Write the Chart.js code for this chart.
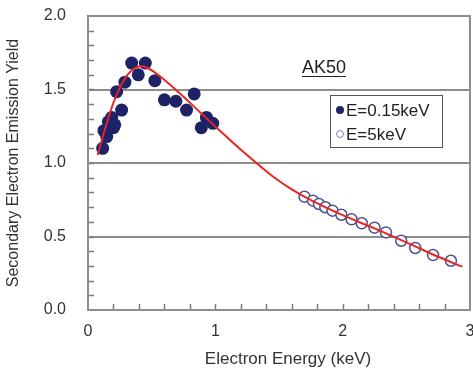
<!DOCTYPE html>
<html>
<head>
<meta charset="utf-8">
<script src="https://cdn.jsdelivr.net/npm/chart.js@4.4.1/dist/chart.umd.min.js"></script>
<style>
  html, body { margin: 0; padding: 0; background: #fff; }
  #wrap { width: 473px; height: 369px; }
</style>
</head>
<body>
<div id="wrap"><canvas id="secChart" width="473" height="369"></canvas></div>
<script>
const lowEnergyX = [0.115, 0.125, 0.147, 0.16, 0.186, 0.20, 0.21, 0.264, 0.225, 0.29, 0.343, 0.395, 0.45, 0.525, 0.60, 0.69, 0.774, 0.834, 0.89, 0.93, 0.98];
const lowEnergyY = [1.10, 1.22, 1.18, 1.28, 1.31, 1.24, 1.26, 1.36, 1.485, 1.55, 1.68, 1.60, 1.68, 1.56, 1.43, 1.42, 1.36, 1.47, 1.24, 1.31, 1.27];

const highEnergyX = [1.70, 1.767, 1.814, 1.864, 1.92, 1.99, 2.07, 2.15, 2.25, 2.34, 2.46, 2.57, 2.71, 2.85];
const highEnergyY = [0.771, 0.744, 0.721, 0.699, 0.676, 0.648, 0.617, 0.590, 0.560, 0.528, 0.471, 0.422, 0.374, 0.335];

// red fit curve, sampled by eye
const fitX = [0.076, 0.14, 0.2, 0.26, 0.32, 0.39, 0.46, 0.55, 0.7, 0.85, 1.0, 1.15, 1.3, 1.45, 1.6, 1.75, 2.0, 2.25, 2.5, 2.75, 2.94];
const fitY = [1.054, 1.25, 1.41, 1.53, 1.61, 1.655, 1.65, 1.60, 1.49, 1.37, 1.248, 1.13, 1.017, 0.91, 0.82, 0.748, 0.645, 0.555, 0.46, 0.362, 0.295];

const legendLabels = ['E=0.15keV', 'E=5keV'];
const sampleLabel = 'AK50';
const xTitle = 'Electron Energy (keV)';
const yTitle = 'Secondary Electron Emission Yield';
const yMajor = [0.5, 1.0, 1.5];

const navy = '#1d2366';
const red = '#e8251f';
const gridGray = '#8e8e8e';
const textCol = '#333';
const font = '"Liberation Sans", Arial, sans-serif';

const toPoints = (xs, ys) => xs.map((x, i) => ({ x, y: ys[i] }));
const isMultiple = (v, step) => Math.abs(v / step - Math.round(v / step)) < 1e-6;

// box, inward minor ticks, x title, sample name and legend
const decorPlugin = {
  id: 'decor',
  afterDraw(chart) {
    const { ctx, chartArea: a, scales } = chart;
    ctx.save();
    ctx.strokeStyle = '#7a7a7a';
    ctx.lineWidth = 1.5;
    for (let v = 0.1; v < 2; v += 0.1) {
      const y = Math.round(scales.y.getPixelForValue(v)) + 0.5;
      ctx.beginPath(); ctx.moveTo(a.left, y); ctx.lineTo(a.left + 6, y); ctx.stroke();
    }
    for (let v = 0.2; v < 3; v += 0.2) {
      const x = Math.round(scales.x.getPixelForValue(v)) + 0.5;
      ctx.beginPath(); ctx.moveTo(x, a.bottom); ctx.lineTo(x, a.bottom - 6); ctx.stroke();
    }
    ctx.strokeStyle = gridGray;
    ctx.lineWidth = 2;
    ctx.strokeRect(a.left, a.top, a.right - a.left, a.bottom - a.top);

    // x axis title
    ctx.fillStyle = textCol;
    ctx.font = '17px ' + font;
    ctx.textAlign = 'center';
    ctx.textBaseline = 'middle';
    ctx.fillText(xTitle, 288, 359);

    // sample name, underlined
    ctx.fillStyle = '#222';
    ctx.font = '18px ' + font;
    ctx.textBaseline = 'alphabetic';
    ctx.textAlign = 'left';
    const w = ctx.measureText(sampleLabel).width;
    ctx.fillText(sampleLabel, 302, 73);
    ctx.lineWidth = 1.2;
    ctx.strokeStyle = '#222';
    ctx.beginPath(); ctx.moveTo(302, 76.5); ctx.lineTo(302 + w, 76.5); ctx.stroke();

    // legend
    ctx.fillStyle = '#fff';
    ctx.fillRect(330, 95, 112, 52);
    ctx.strokeStyle = '#555';
    ctx.lineWidth = 1;
    ctx.strokeRect(330.5, 95.5, 112, 52);
    ctx.beginPath(); ctx.arc(340, 110, 4, 0, Math.PI * 2);
    ctx.fillStyle = navy; ctx.fill();
    ctx.beginPath(); ctx.arc(340, 134, 3.5, 0, Math.PI * 2);
    ctx.strokeStyle = '#8088b0'; ctx.lineWidth = 1; ctx.stroke();
    ctx.fillStyle = '#222';
    ctx.font = '17px ' + font;
    ctx.textBaseline = 'middle';
    ctx.fillText(legendLabels[0], 346, 111);
    ctx.fillText(legendLabels[1], 346, 135);
    ctx.restore();
  }
};

new Chart(document.getElementById('secChart'), {
  type: 'scatter',
  data: {
    datasets: [
      {
        label: 'fit',
        data: toPoints(fitX, fitY),
        showLine: true,
        borderColor: red,
        borderWidth: 2,
        pointRadius: 0,
        tension: 0.35,
        fill: false
      },
      {
        label: legendLabels[0],
        data: toPoints(lowEnergyX, lowEnergyY),
        backgroundColor: navy,
        borderColor: navy,
        borderWidth: 0,
        pointRadius: 6.5
      },
      {
        label: legendLabels[1],
        data: toPoints(highEnergyX, highEnergyY),
        backgroundColor: '#fff',
        borderColor: '#4a5290',
        borderWidth: 1.5,
        pointRadius: 5.5
      }
    ]
  },
  options: {
    responsive: false,
    animation: false,
    layout: { autoPadding: false, padding: { left: 0, top: 16, right: 3, bottom: 0 } },
    plugins: {
      legend: { display: false },
      tooltip: { enabled: false }
    },
    scales: {
      x: {
        type: 'linear',
        min: 0, max: 3,
        afterFit: s => { s.height = 59; s.paddingLeft = 0; s.paddingRight = 0; },
        grid: { display: false, drawTicks: false },
        border: { display: false },
        ticks: {
          stepSize: 0.2,
          padding: 12,
          color: textCol,
          font: { size: 16, family: font },
          autoSkip: false,
          maxRotation: 0,
          callback: v => isMultiple(v, 1) ? String(Math.round(v)) : ''
        }
      },
      y: {
        min: 0, max: 2,
        afterFit: s => { s.width = 88; s.paddingTop = 0; s.paddingBottom = 0; },
        grid: {
          drawTicks: false,
          lineWidth: 2,
          color: c => yMajor.some(m => Math.abs(c.tick.value - m) < 1e-6) ? gridGray : 'rgba(0,0,0,0)'
        },
        border: { display: false },
        ticks: {
          stepSize: 0.1,
          padding: 22,
          color: textCol,
          font: { size: 16, family: font },
          autoSkip: false,
          callback: v => isMultiple(v, 0.5) ? v.toFixed(1) : ''
        },
        title: {
          display: true,
          text: yTitle,
          color: textCol,
          font: { size: 16, family: font },
          padding: { top: 4, bottom: 0 }
        }
      }
    }
  },
  plugins: [decorPlugin]
});
</script>
</body>
</html>
